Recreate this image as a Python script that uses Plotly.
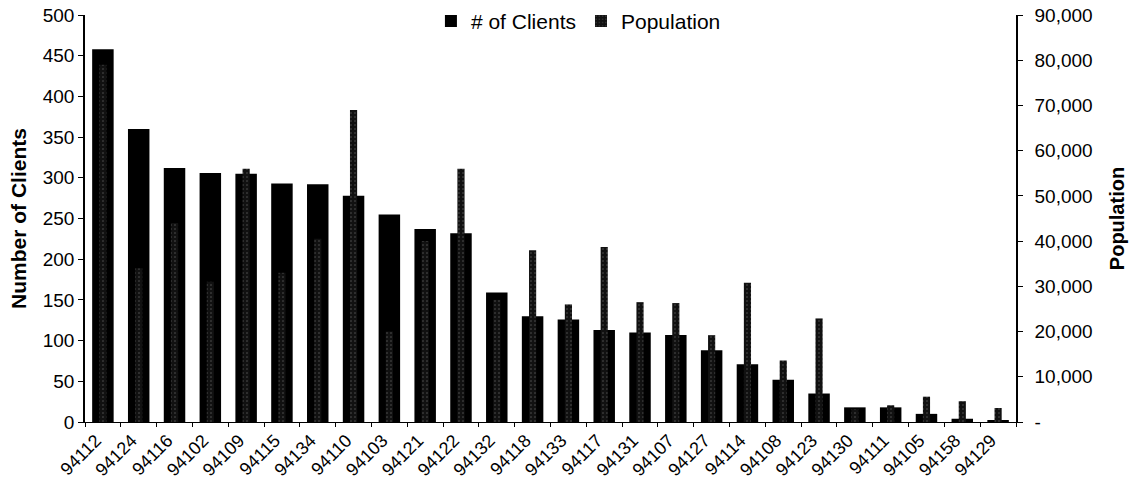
import plotly.graph_objects as go

# ZIP codes ordered by number of clients
zip_codes = ["94112", "94124", "94116", "94102", "94109", "94115", "94134", "94110",
             "94103", "94121", "94122", "94132", "94118", "94133", "94117", "94131",
             "94107", "94127", "94114", "94108", "94123", "94130", "94111", "94105",
             "94158", "94129"]

clients = [458, 360, 312, 306, 305, 293, 292, 278, 255, 237, 232, 159, 130, 126,
           113, 110, 107, 88, 71, 52, 35, 18, 18, 10, 4, 2]

population = [79000, 34000, 44000, 31000, 56000, 33000, 40500, 69000, 20000, 40000,
              56000, 27000, 38000, 26000, 38700, 26500, 26300, 19200, 30800, 13600,
              22900, 2800, 3700, 5600, 4600, 3100]

left_ticks = list(range(0, 501, 50))
right_ticks = list(range(0, 90001, 10000))
right_ticktext = ["-"] + [f"{v:,}" for v in right_ticks[1:]]

font_family = "Liberation Sans, Arial, sans-serif"

fig = go.Figure()

fig.add_trace(go.Bar(
    x=zip_codes, y=clients, name="# of Clients",
    marker=dict(color="#000000", line=dict(width=0)),
    width=0.6, offset=-0.3, yaxis="y",
))

fig.add_trace(go.Bar(
    x=zip_codes, y=population, name="Population",
    marker=dict(color="#111111", line=dict(width=0),
                pattern=dict(shape=".", fgcolor="#9a9a9a", bgcolor="#111111",
                             size=4, solidity=0.12)),
    width=0.2, offset=-0.1, yaxis="y2",
))

fig.update_layout(
    width=1137, height=486,
    margin=dict(l=85, r=121, t=15, b=64, autoexpand=False),
    paper_bgcolor="white", plot_bgcolor="white",
    font=dict(family=font_family, size=19, color="black"),
    barmode="overlay",
    showlegend=True,
    legend=dict(orientation="h", x=0.53, xanchor="center", y=1.035, yanchor="top",
                font=dict(size=21), itemwidth=30, bgcolor="rgba(0,0,0,0)",
                traceorder="normal", tracegroupgap=0),
    xaxis=dict(
        type="category", tickangle=-45, tickfont=dict(size=18),
        ticklabelshift=-7,
        showline=True, linecolor="black", linewidth=1,
        ticks="outside", ticklen=4, tickcolor="black", tickson="boundaries",
        showgrid=False, range=[-0.5, len(zip_codes) - 0.5], automargin=False,
    ),
    yaxis=dict(
        range=[0, 500], tickvals=left_ticks, tickfont=dict(size=19),
        showline=True, linecolor="black", linewidth=1.5,
        ticks="outside", ticklen=5, tickcolor="black",
        showgrid=False, zeroline=False, automargin=False,
        title=dict(text="<b>Number of Clients</b>", font=dict(size=21), standoff=10),
    ),
    yaxis2=dict(
        overlaying="y", side="right",
        range=[0, 90000], tickvals=right_ticks, ticktext=right_ticktext,
        tickfont=dict(size=19), ticklabelstandoff=8,
        showline=True, linecolor="black", linewidth=1.5,
        ticks="outside", ticklen=5, tickcolor="black",
        showgrid=False, zeroline=False, automargin=False,
        title=dict(text="<b>Population</b>", font=dict(size=20), standoff=18),
    ),
)

fig.write_html("out.html")
